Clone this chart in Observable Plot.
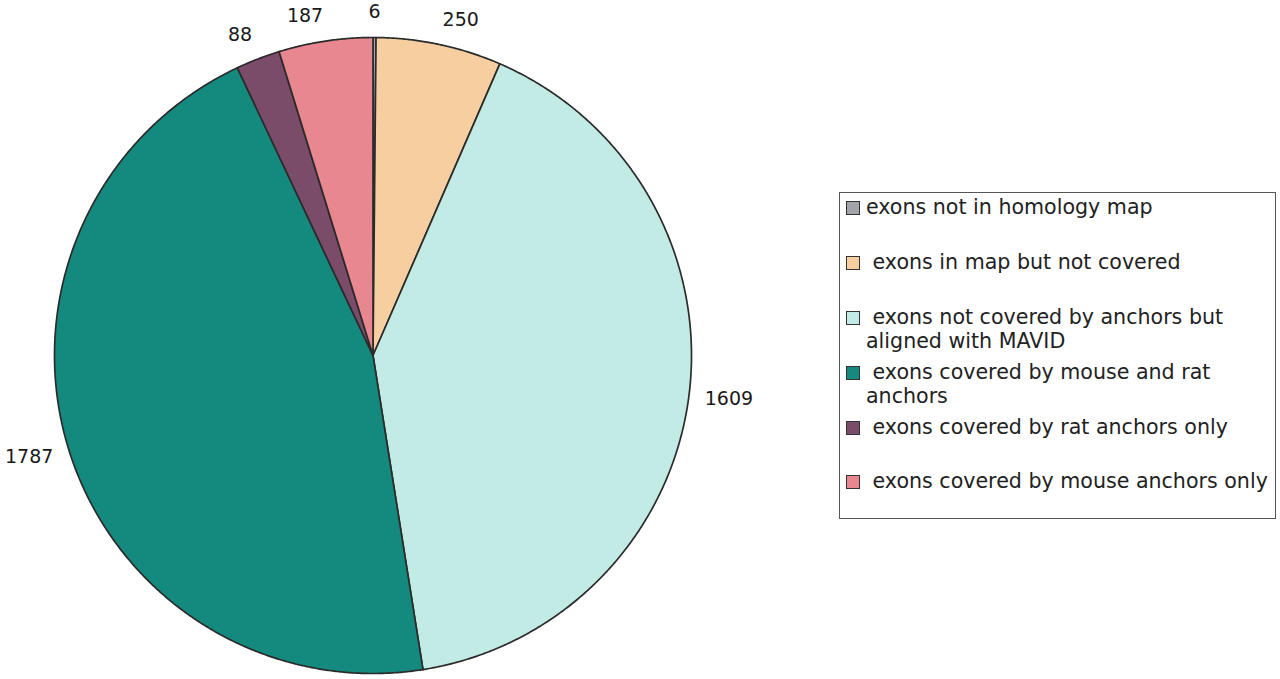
<!DOCTYPE html>
<html>
<head>
<meta charset="utf-8">
<script src="https://cdn.jsdelivr.net/npm/d3@7"></script>
<script src="https://cdn.jsdelivr.net/npm/@observablehq/plot@0.6"></script>
<style>
  html, body { margin: 0; padding: 0; background: #fff; }
  #wrap { position: relative; width: 1280px; height: 679px; font-family: "DejaVu Sans", Verdana, sans-serif; }
  #legend { position: absolute; left: 839px; top: 192px; width: 437px; height: 327px; border: 1px solid #555; box-sizing: border-box; color: #222; font-size: 20.6px; }
  .item { position: absolute; left: 6px; right: 0; line-height: 24px; }
  .sw { position: absolute; left: 0; top: 4px; width: 12px; height: 12px; border: 1.5px solid #333; }
  .txt { position: absolute; left: 20px; white-space: pre; }
</style>
</head>
<body>
<div id="wrap"><div id="chart"></div><div id="legend"></div></div>
<script>
const categories = [
  "exons not in homology map",
  "exons in map but not covered",
  "exons not covered by anchors but aligned with MAVID",
  "exons covered by mouse and rat anchors",
  "exons covered by rat anchors only",
  "exons covered by mouse anchors only"
];
const values = [6, 250, 1609, 1787, 88, 187];
const colors = ["#a9a9c6", "#f7cea0", "#c3ebe6", "#148a7e", "#7a4c6a", "#e8878f"];
const legendColors = ["#a3a3aa", "#f7cea0", "#c3ebe6", "#148a7e", "#7a4c6a", "#e8878f"];
const legendLines = [
  ["exons not in homology map"],
  [" exons in map but not covered"],
  [" exons not covered by anchors but", "aligned with MAVID"],
  [" exons covered by mouse and rat", "anchors"],
  [" exons covered by rat anchors only"],
  [" exons covered by mouse anchors only"]
];
const legendTops = [4, 59, 114, 169, 224, 278];

const table = categories.map((c, i) => ({key: c, value: values[i]}));
const arcs = d3.pie().sort(null).value(d => d.value).startAngle(0).endAngle(2 * Math.PI)(table);

// polygon outline of each slice (geometry of the wedge)
const pts = [];
arcs.forEach(a => {
  const k = a.data.key;
  pts.push({key: k, x: 0, y: 0});
  const n = Math.max(2, Math.ceil((a.endAngle - a.startAngle) / 0.005));
  for (let j = 0; j <= n; j++) {
    const t = a.startAngle + (a.endAngle - a.startAngle) * j / n;
    pts.push({key: k, x: Math.sin(t), y: Math.cos(t)});
  }
  pts.push({key: k, x: 0, y: 0});
});

const labels = arcs.map(a => {
  const m = (a.startAngle + a.endAngle) / 2;
  const s = Math.sin(m);
  return {text: String(a.data.value), x: 1.05 * s, y: 1.08 * Math.cos(m), anchor: s > 0.05 ? "start" : s < -0.05 ? "end" : "middle"};
});

const chart = Plot.plot({
  width: 1280,
  height: 679,
  margin: 0,
  x: {domain: [-1, 1], range: [54, 691], axis: null},
  y: {domain: [-1, 1], range: [673, 37], axis: null},
  color: {domain: categories, range: colors},
  style: {fontFamily: "DejaVu Sans, Verdana, sans-serif", background: "#fff"},
  marks: [
    Plot.line(pts, {x: "x", y: "y", z: "key", fill: "key", stroke: "#2b2b2b", strokeWidth: 1.7, strokeLinejoin: "round"}),
    ...["start", "end", "middle"].map(anc => Plot.text(labels.filter(d => d.anchor === anc), {
      x: "x", y: "y", text: "text", textAnchor: anc, fontSize: 19, fill: "#1a1a1a"
    }))
  ]
});
document.getElementById("chart").appendChild(chart);

const leg = document.getElementById("legend");
legendLines.forEach((lines, i) => {
  const it = document.createElement("div");
  it.className = "item";
  it.style.top = legendTops[i] + "px";
  const sw = document.createElement("div");
  sw.className = "sw";
  sw.style.background = legendColors[i];
  it.appendChild(sw);
  lines.forEach((ln, j) => {
    const t = document.createElement("div");
    t.className = "txt";
    t.style.top = (j * 24 - 2) + "px";
    t.textContent = ln;
    it.appendChild(t);
  });
  leg.appendChild(it);
});
</script>
</body>
</html>
